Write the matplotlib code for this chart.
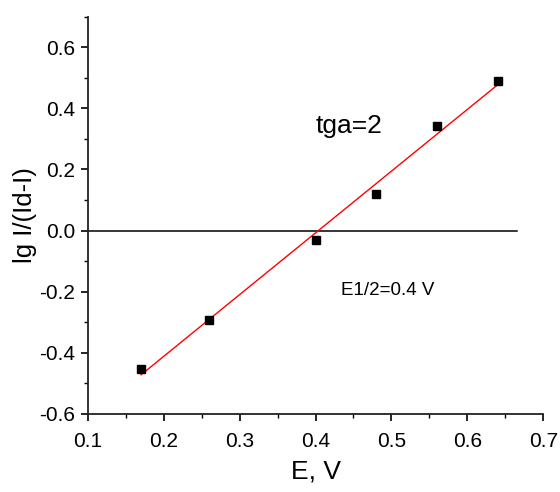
#!/usr/bin/env python3
"""Polarographic wave log plot: lg I/(Id-I) vs E."""

import numpy as np
import matplotlib
matplotlib.use("Agg")
import matplotlib.pyplot as plt
from matplotlib.ticker import MultipleLocator

plt.rcParams["font.family"] = ["Liberation Sans", "DejaVu Sans"]

E = [0.17, 0.26, 0.40, 0.48, 0.56, 0.64]
lg_ratio = [-0.453, -0.292, -0.030, 0.121, 0.341, 0.489]
zero_line_x = [0.1, 0.665]


def main() -> None:
    fig = plt.figure(figsize=(5.6, 4.92), dpi=100)
    ax = fig.add_axes([0.157, 0.159, 0.813, 0.807])

    # linear fit through the points
    k, b = np.polyfit(E, lg_ratio, 1)
    fx = np.array([min(E), max(E)])
    ax.plot(zero_line_x, [0, 0], color="black", lw=1.1)
    ax.plot(fx, k * fx + b, color="red", lw=1.0)
    ax.plot(E, lg_ratio, ls="none", marker="s", ms=6, color="black")

    ax.set_xlim(0.1, 0.7)
    ax.set_ylim(-0.6, 0.7)
    ax.xaxis.set_minor_locator(MultipleLocator(0.05))
    ax.yaxis.set_minor_locator(MultipleLocator(0.1))
    ax.set_yticks([-0.6, -0.4, -0.2, 0.0, 0.2, 0.4, 0.6])
    ax.set_yticklabels(["-0.6", "-0.4", "-0.2", "0.0", "0.2", "0.4", "0.6"])
    ax.set_xticks([0.1, 0.2, 0.3, 0.4, 0.5, 0.6, 0.7])
    ax.set_xticklabels(["0.1", "0.2", "0.3", "0.4", "0.5", "0.6", "0.7"])

    for side in ("top", "right"):
        ax.spines[side].set_visible(False)
    for side in ("left", "bottom"):
        ax.spines[side].set_linewidth(1.3)
        ax.spines[side].set_color("#222222")

    ax.tick_params(which="major", direction="out", length=5, width=1.2, labelsize=15)
    ax.tick_params(which="minor", direction="out", length=3, width=1.0)
    ax.tick_params(axis="x", which="major", pad=8)
    ax.tick_params(axis="y", which="major", pad=4)

    ax.set_xlabel("E, V", fontsize=19, labelpad=6)
    ax.set_ylabel("lg I/(Id-I)", fontsize=18.5, labelpad=2)

    ax.text(0.4435, 0.342, "tga=2", fontsize=19, ha="center", va="center")
    ax.text(0.4956, -0.196, "E1/2=0.4 V", fontsize=13.5, ha="center", va="center")

    fig.savefig("out.png", dpi=100)
    plt.close(fig)


if __name__ == "__main__":
    main()
